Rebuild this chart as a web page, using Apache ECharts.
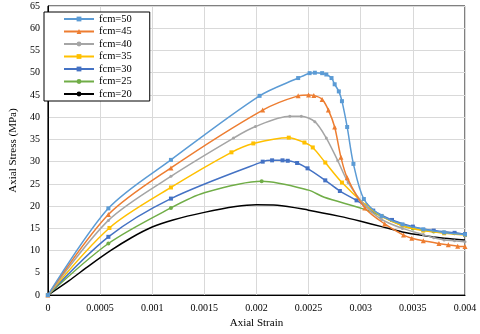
<!DOCTYPE html>
<html><head><meta charset="utf-8">
<script src="https://cdn.jsdelivr.net/npm/echarts@6/dist/echarts.min.js"></script>
<style>html,body{margin:0;padding:0;background:#fff}#c{width:480px;height:334px}</style>
</head><body><div id="c"></div>
<script>
// Series data [strain, stress]; points listed in "hidden" get no marker
const names = ['fcm=50','fcm=45','fcm=40','fcm=35','fcm=30','fcm=25','fcm=20'];
const s50 = [[0,0],[0.00058,19.5],[0.00118,30.4],[0.00203,44.8],[0.0024,48.8],[0.00251,49.9],[0.00256,50.0],[0.00263,49.9],[0.00267,49.6],[0.00272,48.8],[0.00275,47.4],[0.00279,45.8],[0.00282,43.6],[0.00287,37.8],[0.00293,29.5],[0.00303,21.6],[0.0032,17.8],[0.0034,15.9],[0.0036,14.8],[0.0038,14.1],[0.004,13.6]];
const s45 = [[0,0],[0.00058,18.1],[0.00118,28.6],[0.00206,41.6],[0.0024,44.8],[0.0025,45.0],[0.00255,44.9],[0.00263,44.0],[0.00269,41.6],[0.00275,37.8],[0.00281,31.0],[0.00287,26.4],[0.00304,19.6],[0.00323,16.0],[0.00341,13.5],[0.00349,12.8],[0.0036,12.2],[0.00375,11.6],[0.00384,11.3],[0.00393,11.0],[0.004,10.9]];
const s40 = [[0,0],[0.00058,16.8],[0.00118,26.7],[0.00178,35.3],[0.00199,37.9],[0.00232,40.2],[0.00243,40.2],[0.00256,39.0],[0.00267,35.3],[0.00278,30.2],[0.00288,25.3],[0.00305,19.9],[0.0032,17.0],[0.0034,15.0],[0.0036,13.6],[0.0037,12.9],[0.0038,12.4],[0.0039,12.2],[0.004,12.0]];
const s35 = [[0,0],[0.00059,15.1],[0.00118,24.2],[0.00176,32.1],[0.00197,34.1],[0.00231,35.4],[0.00246,34.3],[0.00254,33.2],[0.00266,29.8],[0.00282,25.3],[0.00305,20.2],[0.0032,17.7],[0.0034,15.6],[0.0036,14.5],[0.0038,13.9],[0.004,13.5]];
const s30 = [[0,0],[0.00058,13.1],[0.00118,21.7],[0.00206,30.0],[0.00215,30.3],[0.00225,30.3],[0.0023,30.2],[0.00239,29.7],[0.00249,28.5],[0.00266,25.8],[0.0028,23.4],[0.00296,21.3],[0.00312,19.0],[0.0033,16.9],[0.0035,15.4],[0.0037,14.5],[0.0039,14.0],[0.004,13.7]];
const s25 = [[0,0],[0.00058,11.6],[0.00118,19.6],[0.0015,23.0],[0.00205,25.6],[0.0025,23.6],[0.00265,22.0],[0.00306,19.1],[0.0034,15.6],[0.0035,15.0],[0.0036,14.6],[0.0037,14.3],[0.0038,14.1],[0.0039,13.9],[0.004,13.7]];
const s25hidden = [0.0015,0.0025,0.00265,0.00306,0.0034];
const s20 = [[0,0],[0.0002,3.2],[0.0004,6.7],[0.0006,10.0],[0.0008,12.9],[0.001,15.3],[0.0012,16.9],[0.0015,18.6],[0.0018,19.9],[0.002,20.3],[0.0022,20.2],[0.0025,19.1],[0.0028,17.7],[0.003,16.6],[0.0032,15.4],[0.0034,14.2],[0.0036,13.4],[0.0038,12.8],[0.004,12.4]];
const xTicks = ['0','0.0005','0.001','0.0015','0.002','0.0025','0.003','0.0035','0.004'];
const yTicks = [0,5,10,15,20,25,30,35,40,45,50,55,60,65];

const colors = ['#5B9BD5','#ED7D31','#A5A5A5','#FFC000','#4472C4','#70AD47','#000000'];
const symbols = ['rect','triangle','circle','rect','rect','circle','none'];
const sizes = [4,5,3,4,4,4,0];
const all = [s50,s45,s40,s35,s30,s25,s20];
const hid = [[],[],[],[],[],s25hidden,[]];
const font = 'Liberation Serif';

const series = all.map((d,i)=>({
  name: names[i], type:'line', smooth:0.3,
  symbol: symbols[i], symbolSize: sizes[i], showSymbol: i<6,
  color: colors[i],
  lineStyle:{width:1.5,color:colors[i]},
  itemStyle:{color:colors[i]},
  emphasis:{disabled:true},
  data: d.map(p => hid[i].indexOf(p[0])>=0 ? {value:p, symbol:'none'} : {value:p}),
  z: 10 - i
}));

const chart = echarts.init(document.getElementById('c'));
chart.setOption({
  animation:false,
  grid:{left:37,right:15,top:6,bottom:30,show:true,borderColor:'#000',borderWidth:1},
  legend:{
    orient:'vertical', left:44, top:12, data:names,
    itemWidth:30, itemHeight:6, itemGap:0.5,
    backgroundColor:'#fff', borderColor:'#000', borderWidth:1,
    padding:[1,18,1,19],
    textStyle:{fontFamily:font,fontSize:10.5,color:'#000',lineHeight:12}
  },
  xAxis:{
    type:'value', min:0, max:0.004, interval:0.0005,
    name:'Axial Strain', nameLocation:'middle', nameGap:17,
    nameTextStyle:{fontFamily:font,fontSize:11,color:'#000'},
    axisLine:{lineStyle:{color:'#000',width:1}},
    axisTick:{show:false},
    axisLabel:{fontFamily:font,fontSize:10,color:'#000',margin:8,
      formatter:(v)=>xTicks[Math.round(v/0.0005)]},
    splitLine:{lineStyle:{color:'#D9D9D9',width:1}}
  },
  yAxis:{
    type:'value', min:0, max:65, interval:5,
    name:'Axial Stress (MPa)', nameLocation:'middle', nameGap:26,
    nameTextStyle:{fontFamily:font,fontSize:11,color:'#000'},
    axisLine:{show:true,lineStyle:{color:'#000',width:1}},
    axisTick:{show:false},
    axisLabel:{fontFamily:font,fontSize:10,color:'#000',margin:8,
      formatter:(v)=>String(yTicks[Math.round(v/5)])},
    splitLine:{lineStyle:{color:'#D9D9D9',width:1}}
  },
  series: series
});
</script></body></html>
